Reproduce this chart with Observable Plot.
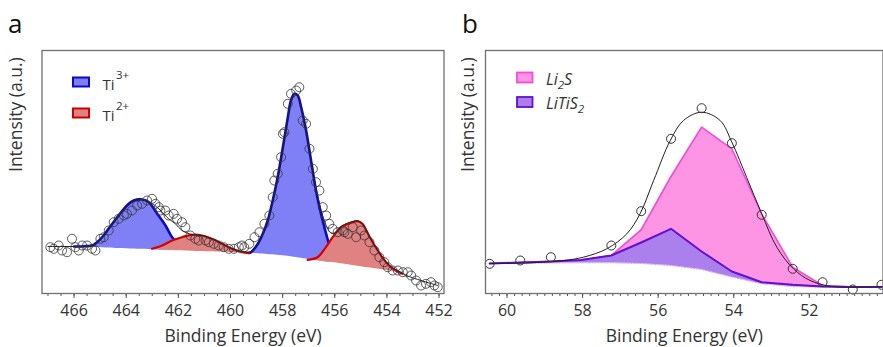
<!DOCTYPE html>
<html><head><meta charset="utf-8">
<script src="https://cdn.jsdelivr.net/npm/d3@7"></script>
<script src="https://cdn.jsdelivr.net/npm/@observablehq/plot@0.6"></script>
<style>
body{margin:0;background:#fff;font-family:"Open Sans",sans-serif;}
#wrap{position:relative;width:883px;height:347px;overflow:hidden;background:#fff;}
#wrap > svg{position:absolute;top:0;}
</style></head><body><div id="wrap"></div>
<script>
// ---------- Panel a : Ti 2p ----------
const aTicks = [466, 464, 462, 460, 458, 456, 454, 452];
// raw data (circles)
const aDataE = [466.91,466.78,466.59,466.46,466.27,466.08,465.95,465.82,465.69,465.50,465.31,465.18,464.99,464.86,464.67,464.48,464.29,464.09,463.97,463.78,463.58,463.39,463.20,463.01,462.88,462.75,462.69,462.50,462.37,462.18,462.05,461.86,461.73,461.54,461.35,461.22,460.96,460.83,460.64,460.45,460.26,460.07,459.87,459.68,459.56,459.47,459.28,459.08,458.89,458.70,458.51,458.38,458.32,458.19,458.06,457.99,457.93,457.80,457.68,457.48,457.36,457.23,457.10,456.97,456.84,456.72,456.59,456.46,456.33,456.21,456.08,455.89,455.69,455.63,455.50,455.31,455.18,454.99,454.86,454.67,454.48,454.29,454.10,453.97,453.78,453.58,453.39,453.20,453.07,452.88,452.69,452.50,452.31,452.18,452.05];
const aDataI = [46.3,44.7,48,43,41.3,54.7,46.3,43,48,48,44.7,43,54.7,56.3,63,71.3,74.7,78,79.7,83,88,89.7,93,94.7,89.7,86.3,83,83,78,79.7,74.7,71.3,66.3,58,54.7,53,53,51.3,49.7,48,46.3,44.7,44.7,46.3,48,46.3,49.7,56.3,61.3,69.7,78,96.3,113,119.7,136.3,159.7,161.3,189.7,199.7,203,206.3,173,169.7,144.7,124.7,111.3,103,86.3,78,69.7,64.7,61.3,63,61.3,59.7,66.3,56.3,63,58,51.3,43,36.3,31.3,26.3,23,23,21.3,21.3,18,13,8,9.7,11.3,8,6.3];
// fit envelope
const aFitE = [467.0,466.5,466.0,465.5,465.31,465.12,464.9,464.67,464.29,463.97,463.71,463.45,463.2,462.95,462.75,462.37,462.11,461.86,461.47,461.09,460.71,460.32,459.94,459.56,459.29,459.21,458.95,458.76,458.57,458.38,458.19,457.99,457.8,457.68,457.55,457.42,457.29,457.1,456.91,456.72,456.53,456.33,456.2,456.08,455.89,455.76,455.5,455.38,455.13,454.94,454.69,454.43,454.18,453.92,453.66,453.41,453.2,452.69,452.05];
const aFitI = [47,47,47,47,48,51.5,57,65,78,88,93,94.5,92.5,89,84.7,74.7,69.7,63,59,58,54.7,49.7,45,42,41.5,42,50,60,73,93,116.3,146.3,176.3,193,199.7,198,186.3,163.5,134,106,84,68,62,60,62,67,70.5,71.5,72.5,69.7,58,46.3,36.3,28.5,24,20.5,17.5,13,8];
// Ti3+ component 1 (2p1/2)
const ti3aE = [466.0,465.6,465.31,465.12,464.9,464.67,464.29,463.97,463.71,463.39,463.13,462.82,462.5,462.24,462.11];
const ti3aTop = [47,47.3,48,51.3,57,65,78,88,93,94,91.3,80,68.3,56.3,53];
const ti3aBase = [47,46.5,46.2,46,45.8,45.5,45,44.8,44.5,44.2,44,43.6,43.3,43,43];
// Ti3+ component 2 (2p3/2)
const ti3bE = [459.29,459.21,458.95,458.76,458.57,458.38,458.19,457.99,457.8,457.68,457.55,457.42,457.29,457.1,456.91,456.72,456.53,456.33,456.21];
const ti3bTop = [40.5,41.3,49.7,59.7,73,93,116.3,146.3,176.3,193,199.7,198,186.3,163,133,103,79.7,59.7,48];
const ti3bBase = [40.3,40.2,39.8,39.4,39,38.7,38.3,37.8,37.2,36.8,36.3,35.8,35.3,34.5,33.7,33,32.3,31.5,31];
// Ti2+ component 1
const ti2aE = [463.01,462.62,462.24,461.86,461.47,461.09,460.71,460.32,459.94,459.56,459.29];
const ti2aTop = [44.7,48,53,56.3,58.7,58,54.7,49.7,44.7,41.3,40.3];
const ti2aBase = [44,43.6,43,42.7,42.3,42,41.7,41.4,41,40.7,40.3];
// Ti2+ component 2
const ti2bE = [457.04,456.66,456.34,456.08,455.76,455.38,455.13,454.94,454.69,454.43,454.18,453.92,453.66,453.41];
const ti2bTop = [33.7,36.3,46.3,56.3,66.3,70.7,72.3,69.7,58,46.3,36.3,28,23,19.7];
const ti2bBase = [33.7,32.8,31.8,31,29.7,28.3,27.3,26.6,25.8,24.8,23.8,22.8,21.8,19.7];

// ---------- Panel b : Li 1s ----------
const bTicks = [60, 58, 56, 54, 52];
const bDataE = [60.46,59.65,58.84,57.24,56.45,55.66,54.85,54.05,53.26,52.44,51.65,50.85,50.09];
const bDataI = [29.7,33,36.3,48,82.3,154.7,185.3,150.3,78.7,24.7,11.3,4,8.7];
const bFitE = [60.46,59.5,59,58.5,57.98,57.36,56.83,56.48,56.12,55.68,55.33,54.85,54.36,54.05,53.66,53.26,52.86,52.42,51.98,51.45,50.75,50.05];
const bFitI = [30,30.5,31.5,33,36.3,44.7,59.7,79.7,113,153,173,181.3,173,151.3,116.3,79.7,46.3,24.7,13,7.3,6.3,7];
const bCompE = [60.46,59.65,58.84,58.04,57.24,56.45,55.66,54.85,54.05,53.26,52.44,51.65,50.85,50.05];
const li2sTop = [30,31,32,33.5,38,63.7,117,166.3,144.7,79.7,26.3,8,6.5,6.5];
const litis2Top = [30,31,32,33.5,38,51,64.7,42,22,11.3,8.7,7,6.5,6.5];
const bBase = [29.7,30,30.5,30.7,30.7,30,28,24,16.5,9.7,7,6.3,6,6];

const rows = (E, T, B) => E.map((e, i) => ({e, t: T[i], b: B ? B[i] : null}));

const FONT = "'Open Sans', sans-serif";

function panel({width, ml, mr, domain, majors, minors, marks, ytitleDx}) {
  return Plot.plot({
    width, height: 347, marginTop: 50, marginBottom: 54, marginLeft: ml, marginRight: mr,
    x: {domain, label: null},
    y: {domain: [0, 243], axis: null},
    style: {fontFamily: FONT, background: "transparent", overflow: "visible", color: "#333"},
    marks: [
      ...marks,
      Plot.axisX({ticks: minors, tickSize: 3, tickFormat: () => "", stroke: "#555", label: null}),
      Plot.axisX({ticks: majors, tickSize: 5, tickPadding: 6, fontSize: 16, stroke: "#555", fill: "#333", label: null}),
      Plot.frame({stroke: "#707070", strokeWidth: 1.3}),
      Plot.text(["Binding Energy (eV)"], {frameAnchor: "bottom", lineAnchor: "middle", dy: 43, fontSize: 17.5, fill: "#333"}),
      Plot.text(["Intensity (a.u.)"], {frameAnchor: "left", lineAnchor: "middle", rotate: -90, dx: ytitleDx, fontSize: 17.5, fill: "#333"})
    ]
  });
}

const smooth = "catmull-rom";
const plotA = panel({
  width: 450, ml: 41.5, mr: 6.5, domain: [467.23, 451.81],
  majors: aTicks, minors: d3.range(467, 451.9, -0.5), ytitleDx: -25.5,
  marks: [
    Plot.areaY(rows(ti3aE, ti3aTop, ti3aBase), {x: "e", y1: "b", y2: "t", fill: "#8080f6", curve: smooth}),
    Plot.line(rows(ti3aE, ti3aTop), {x: "e", y: "t", stroke: "#0a0ac4", strokeWidth: 2.6, curve: smooth}),
    Plot.areaY(rows(ti3bE, ti3bTop, ti3bBase), {x: "e", y1: "b", y2: "t", fill: "#8080f6", curve: smooth}),
    Plot.line(rows(ti3bE, ti3bTop), {x: "e", y: "t", stroke: "#0a0ac4", strokeWidth: 2.6, curve: smooth}),
    Plot.areaY(rows(ti2aE, ti2aTop, ti2aBase), {x: "e", y1: "b", y2: "t", fill: "#e08282", curve: smooth}),
    Plot.line(rows(ti2aE, ti2aTop), {x: "e", y: "t", stroke: "#d40000", strokeWidth: 2.2, curve: smooth}),
    Plot.areaY(rows(ti2bE, ti2bTop, ti2bBase), {x: "e", y1: "b", y2: "t", fill: "#e08282", curve: smooth}),
    Plot.line(rows(ti2bE, ti2bTop), {x: "e", y: "t", stroke: "#d40000", strokeWidth: 2.2, curve: smooth}),
    Plot.line(rows(aFitE, aFitI), {x: "e", y: "t", stroke: "#222", strokeWidth: 1, curve: smooth}),
    Plot.dot(rows(aDataE, aDataI), {x: "e", y: "t", r: 4.5, stroke: "#333", strokeWidth: 0.8, fill: "none"})
  ]
});

const plotB = panel({
  width: 442, ml: 44, mr: 0.5, domain: [60.57, 50.05],
  majors: bTicks, minors: d3.range(60.4, 50.1, -0.2), ytitleDx: -17.3,
  marks: [
    Plot.areaY(rows(bCompE, li2sTop, bBase), {x: "e", y1: "b", y2: "t", fill: "#fd94e4"}),
    Plot.line(rows(bCompE, li2sTop), {x: "e", y: "t", stroke: "#ee4fd8", strokeWidth: 1.6}),
    Plot.areaY(rows(bCompE, litis2Top, bBase), {x: "e", y1: "b", y2: "t", fill: "#ac80ec"}),
    Plot.line(rows(bCompE, bBase), {x: "e", y: "t", stroke: "#c7a6f2", strokeWidth: 1, strokeDasharray: "1.5,1.5"}),
    Plot.line(rows(bCompE, litis2Top), {x: "e", y: "t", stroke: "#6410cc", strokeWidth: 2}),
    Plot.line(rows(bFitE, bFitI), {x: "e", y: "t", stroke: "#222", strokeWidth: 1, curve: smooth}),
    Plot.dot(rows(bDataE, bDataI), {x: "e", y: "t", r: 4.5, stroke: "#333", strokeWidth: 1, fill: "none"})
  ]
});

const wrap = document.getElementById("wrap");
plotA.style.left = "0px";
plotB.style.left = "441px";
wrap.appendChild(plotA);
wrap.appendChild(plotB);

// overlay: panel letters + legends
const ov = d3.select(wrap).append("svg").attr("width", 883).attr("height", 347)
  .style("position", "absolute").style("left", "0px").style("top", "0px")
  .style("font-family", FONT);
ov.append("text").attr("x", 8).attr("y", 33).attr("font-size", 26).attr("fill", "#111").text("a");
ov.append("text").attr("x", 462).attr("y", 33).attr("font-size", 26).attr("fill", "#111").text("b");

const legA = [
  {label: "Ti", sup: "3+", fill: "#7e7ef6", stroke: "#0a0ac4", y: 77.5},
  {label: "Ti", sup: "2+", fill: "#e08282", stroke: "#cc0000", y: 108.5}
];
legA.forEach(d => {
  ov.append("rect").attr("x", 73).attr("y", d.y).attr("width", 16).attr("height", 9)
    .attr("fill", d.fill).attr("stroke", d.stroke).attr("stroke-width", 2);
  ov.append("text").attr("x", 102.5).attr("y", d.y + 12.5).attr("font-size", 15).attr("fill", "#333").text(d.label);
  ov.append("text").attr("x", 116).attr("y", d.y + 1).attr("font-size", 11.5).attr("fill", "#333").text(d.sup);
});

const legB = [
  {parts: [["Li", 0], ["2", 1], ["S", 0]], fill: "#fd94e4", stroke: "#ee4fd8", y: 72.5},
  {parts: [["LiTiS", 0], ["2", 1]], fill: "#ac7eec", stroke: "#6410cc", y: 97}
];
legB.forEach(d => {
  ov.append("rect").attr("x", 517).attr("y", d.y).attr("width", 15.5).attr("height", 10)
    .attr("fill", d.fill).attr("stroke", d.stroke).attr("stroke-width", 1.8);
  const t = ov.append("text").attr("x", 546).attr("y", d.y + 12).attr("font-size", 16)
    .attr("font-style", "italic").attr("fill", "#333");
  let prevSub = false;
  d.parts.forEach(([s, sub]) => {
    const ts = t.append("tspan").text(s);
    if (sub) { ts.attr("font-size", 11.5).attr("dy", 4); prevSub = true; }
    else if (prevSub) { ts.attr("dy", -4); prevSub = false; }
  });
});
</script>
</body></html>
